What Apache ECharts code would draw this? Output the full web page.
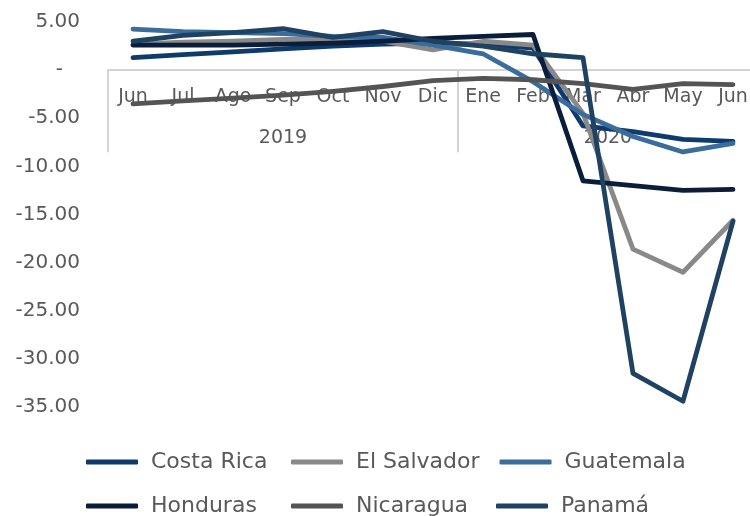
<!DOCTYPE html>
<html>
<head>
<meta charset="utf-8">
<script src="https://cdn.jsdelivr.net/npm/echarts@6/dist/echarts.min.js"></script>
<style>
  html, body { margin: 0; padding: 0; background: #fff; }
  #chart { width: 750px; height: 516px; }
</style>
</head>
<body>
<div id="chart"></div>
<script>
// categorías (meses) y años
const months = ['Jun', 'Jul', 'Ago', 'Sep', 'Oct', 'Nov', 'Dic', 'Ene', 'Feb', 'Mar', 'Abr', 'May', 'Jun']
const years = ['2019', '2020']
const monthsPerYear = [7, 6]

// series por país
const costaRica = [1.3, 1.6, 1.9, 2.2, 2.5, 2.7, 2.8, 2.7, 2.3, -5.8, -6.4, -7.2, -7.4]
const elSalvador = [2.7, 2.9, 3.0, 3.2, 3.2, 3.0, 2.1, 3.0, 2.6, -4.5, -18.6, -21.0, -15.6]
const guatemala = [4.25, 4.0, 3.9, 3.8, 3.5, 3.4, 2.6, 1.7, -1.2, -4.6, -6.9, -8.5, -7.6]
const honduras = [2.6, 2.6, 2.6, 2.7, 2.8, 3.0, 3.3, 3.5, 3.7, -11.5, -12.0, -12.5, -12.4]
const nicaragua = [-3.5, -3.2, -2.9, -2.6, -2.2, -1.7, -1.1, -0.85, -1.0, -1.4, -2.0, -1.4, -1.5]
const panama = [3.0, 3.6, 3.9, 4.3, 3.4, 4.0, 3.0, 2.5, 1.7, 1.3, -31.5, -34.4, -15.7]

const seriesDefs = [
  { name: 'Costa Rica', data: costaRica, color: '#0e3a6c' },
  { name: 'El Salvador', data: elSalvador, color: '#898989' },
  { name: 'Guatemala', data: guatemala, color: '#3a6d9c' },
  { name: 'Honduras', data: honduras, color: '#0a1d3b' },
  { name: 'Nicaragua', data: nicaragua, color: '#545454' },
  { name: 'Panamá', data: panama, color: '#1f4262' }
]

// límites y centros de cada año sobre el eje de meses
const yearBounds = [-0.5]
monthsPerYear.forEach(n => yearBounds.push(yearBounds[yearBounds.length - 1] + n))
const yearCenters = years.map((y, i) => (yearBounds[i] + yearBounds[i + 1]) / 2)

const yMin = -35
const yMax = 5

const font = 'DejaVu Sans'
const textColor = '#595959'
const lineColor = '#d4d4d4'

// el eje de categorías cruza el eje Y en cero
const gridTop = 22
const gridBottom = 109
const gridHeight = 516 - gridTop - gridBottom
const zeroOffset = -gridHeight * (0 - yMin) / (yMax - yMin)

const chart = echarts.init(document.getElementById('chart'))

const option = {
  animation: false,
  textStyle: { fontFamily: font },
  grid: {
    left: 108,
    right: -8,
    top: gridTop,
    bottom: gridBottom,
    containLabel: false,
    outerBoundsMode: 'none'
  },
  legend: {
    left: 81,
    top: 445,
    width: 640,
    itemWidth: 52,
    itemHeight: 5,
    itemGap: 20,
    icon: 'roundRect',
    textStyle: {
      fontFamily: font,
      fontSize: 22,
      color: textColor,
      width: 120,
      lineHeight: 24,
      padding: [0, 0, 0, 8]
    },
    data: seriesDefs.map(s => s.name)
  },
  xAxis: [
    {
      type: 'category',
      data: months,
      boundaryGap: true,
      position: 'bottom',
      offset: zeroOffset,
      axisLine: { show: true, onZero: false, lineStyle: { color: lineColor, width: 2 } },
      axisTick: { show: false },
      axisLabel: { interval: 0, margin: 17, fontSize: 19, color: textColor, fontFamily: font },
      splitLine: { show: false }
    },
    {
      type: 'value',
      position: 'bottom',
      offset: zeroOffset,
      min: yearBounds[0],
      max: yearBounds[yearBounds.length - 1],
      axisLine: { show: false, onZero: false },
      axisTick: {
        show: true,
        customValues: yearBounds,
        length: 82,
        lineStyle: { color: lineColor, width: 2 }
      },
      axisLabel: {
        customValues: yearCenters,
        margin: 58,
        fontSize: 19,
        color: textColor,
        fontFamily: font,
        formatter: v => {
          const i = yearCenters.indexOf(v)
          return i >= 0 ? years[i] : ''
        }
      },
      splitLine: { show: false }
    }
  ],
  yAxis: {
    type: 'value',
    min: yMin,
    max: yMax,
    interval: 5,
    axisLine: { show: false, onZero: false },
    axisTick: { show: false },
    splitLine: { show: false },
    axisLabel: {
      margin: 28,
      fontSize: 20,
      color: textColor,
      fontFamily: font,
      formatter: v => (v === 0 ? '{z|-}' : v.toFixed(2)),
      rich: { z: { fontSize: 20, color: textColor, padding: [0, 17, 0, 0] } }
    }
  },
  series: seriesDefs.map(s => ({
    name: s.name,
    type: 'line',
    data: s.data,
    xAxisIndex: 0,
    showSymbol: false,
    symbol: 'none',
    color: s.color,
    lineStyle: { width: 4.8, color: s.color, cap: 'round', join: 'round' }
  }))
}

chart.setOption(option)
</script>
</body>
</html>
